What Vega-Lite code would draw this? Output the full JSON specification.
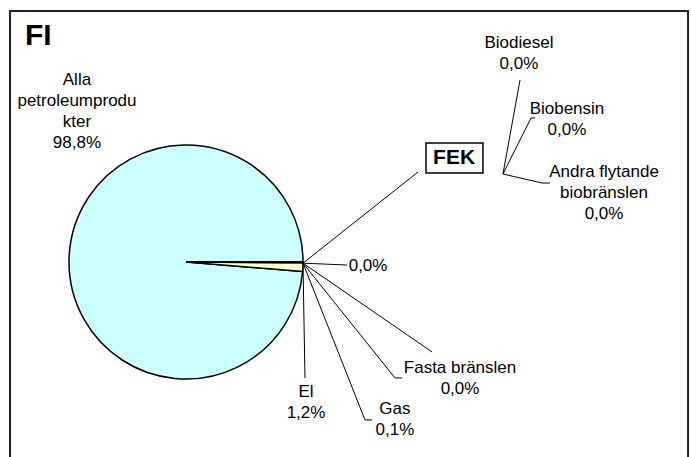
{
  "$schema": "https://vega.github.io/schema/vega-lite/v6.json",
  "width": 691,
  "height": 457,
  "autosize": {"type": "none"},
  "padding": 0,
  "background": "white",
  "config": {
    "view": {"stroke": null},
    "axis": {"disable": true},
    "legend": {"disable": true},
    "text": {"font": "Liberation Sans"}
  },
  "layer": [
    {
      "data": {"values": [{"name": "frame"}]},
      "mark": {"type": "rect", "filled": false, "stroke": "#222222", "strokeWidth": 2},
      "encoding": {
        "x": {"datum": -150.4, "type": "quantitative", "scale": {"domain": [-158.97, 431.62], "nice": false, "zero": false}},
        "x2": {"datum": 429.1},
        "y": {"datum": 214.5, "type": "quantitative", "scale": {"domain": [-166.67, 223.93], "nice": false, "zero": false}},
        "y2": {"datum": -186.3}
      }
    },
    {
      "data": {"values": [
        {"category": "Alla petroleumprodukter", "value": 98.8},
        {"category": "El", "value": 1.2},
        {"category": "Gas", "value": 0.1},
        {"category": "Fasta bränslen", "value": 0},
        {"category": "Biodiesel", "value": 0},
        {"category": "Biobensin", "value": 0},
        {"category": "Andra flytande biobränslen", "value": 0},
        {"category": "Övrigt", "value": 0}
      ]},
      "mark": {"type": "arc", "radius": 117, "stroke": "black", "strokeWidth": 1.5},
      "encoding": {
        "x": {"datum": 0, "type": "quantitative"},
        "y": {"datum": 0, "type": "quantitative"},
        "theta": {"field": "value", "type": "quantitative", "stack": true, "scale": {"range": [1.5708, 7.854]}},
        "order": {"field": "value", "sort": "ascending"},
        "color": {
          "field": "category", "type": "nominal", "legend": null,
          "scale": {
            "domain": ["Alla petroleumprodukter", "El", "Gas", "Fasta bränslen", "Biodiesel", "Biobensin", "Andra flytande biobränslen", "Övrigt"],
            "range": ["#CCFFFF", "#FFFFCC", "#FFFFCC", "#FFFFCC", "#FFFFCC", "#FFFFCC", "#FFFFCC", "#FFFFCC"]
          }
        }
      }
    },
    {
      "data": {"values": [
        {"line": "Övrigt", "i": 0, "x": 100, "y": -1},
        {"line": "Övrigt", "i": 1, "x": 137.6, "y": -2.6},
        {"line": "FEK", "i": 0, "x": 100, "y": -1},
        {"line": "FEK", "i": 1, "x": 198.3, "y": 76.9},
        {"line": "Okänd", "i": 0, "x": 100, "y": -1},
        {"line": "Okänd", "i": 1, "x": 210.3, "y": -76.9},
        {"line": "Fasta bränslen", "i": 0, "x": 100, "y": -1},
        {"line": "Fasta bränslen", "i": 1, "x": 178.6, "y": -99.1},
        {"line": "Fasta bränslen", "i": 2, "x": 184.6, "y": -99.1},
        {"line": "Gas", "i": 0, "x": 100, "y": -1},
        {"line": "Gas", "i": 1, "x": 153.0, "y": -135.0},
        {"line": "Gas", "i": 2, "x": 159.0, "y": -135.0},
        {"line": "El", "i": 0, "x": 100, "y": -1},
        {"line": "El", "i": 1, "x": 101.7, "y": -99.1},
        {"line": "Biodiesel", "i": 0, "x": 270.9, "y": 75.2},
        {"line": "Biodiesel", "i": 1, "x": 285.5, "y": 155.6},
        {"line": "Biobensin", "i": 0, "x": 270.9, "y": 75.2},
        {"line": "Biobensin", "i": 1, "x": 294.9, "y": 123.1},
        {"line": "Biobensin", "i": 2, "x": 298.3, "y": 123.1},
        {"line": "Andra", "i": 0, "x": 270.9, "y": 75.2},
        {"line": "Andra", "i": 1, "x": 304.3, "y": 67.5},
        {"line": "Andra", "i": 2, "x": 311.1, "y": 67.5}
      ]},
      "mark": {"type": "line", "stroke": "black", "strokeWidth": 1},
      "encoding": {
        "x": {"field": "x", "type": "quantitative"},
        "y": {"field": "y", "type": "quantitative"},
        "detail": {"field": "line"},
        "order": {"field": "i", "type": "quantitative"}
      }
    },
    {
      "data": {"values": [{"name": "FEK box"}]},
      "mark": {"type": "rect", "fill": "white", "stroke": "black", "strokeWidth": 1.5},
      "encoding": {
        "x": {"datum": 205.1, "type": "quantitative"},
        "x2": {"datum": 253.8},
        "y": {"datum": 101.7, "type": "quantitative"},
        "y2": {"datum": 76.1}
      }
    },
    {
      "data": {"values": [
        {"label": "Alla\npetroleumprodu\nkter\n98,8%", "x": -93.2, "y": 155.6},
        {"label": "Biodiesel\n0,0%", "x": 284.6, "y": 187.2},
        {"label": "Biobensin\n0,0%", "x": 325.6, "y": 130.8},
        {"label": "Andra flytande\nbiobränslen\n0,0%", "x": 357.3, "y": 76.9},
        {"label": "0,0%", "x": 155.6, "y": -3.4},
        {"label": "Fasta bränslen\n0,0%", "x": 234.2, "y": -90.6},
        {"label": "Gas\n0,1%", "x": 178.6, "y": -125.6},
        {"label": "El\n1,2%", "x": 102.6, "y": -111.1}
      ]},
      "mark": {"type": "text", "fontSize": 17, "lineBreak": "\n", "lineHeight": 21, "align": "center", "baseline": "middle", "color": "black"},
      "encoding": {
        "x": {"field": "x", "type": "quantitative"},
        "y": {"field": "y", "type": "quantitative"},
        "text": {"field": "label"}
      }
    },
    {
      "data": {"values": [{"label": "FEK"}]},
      "mark": {"type": "text", "fontSize": 21, "fontWeight": "bold", "align": "center", "baseline": "middle", "color": "black"},
      "encoding": {
        "x": {"datum": 229.1, "type": "quantitative"},
        "y": {"datum": 88.9, "type": "quantitative"},
        "text": {"field": "label"}
      }
    },
    {
      "data": {"values": [{"label": "FI"}]},
      "mark": {"type": "text", "fontSize": 30, "fontWeight": "bold", "align": "left", "baseline": "middle", "color": "black"},
      "encoding": {
        "x": {"datum": -137.6, "type": "quantitative"},
        "y": {"datum": 193.2, "type": "quantitative"},
        "text": {"field": "label"}
      }
    }
  ]
}
